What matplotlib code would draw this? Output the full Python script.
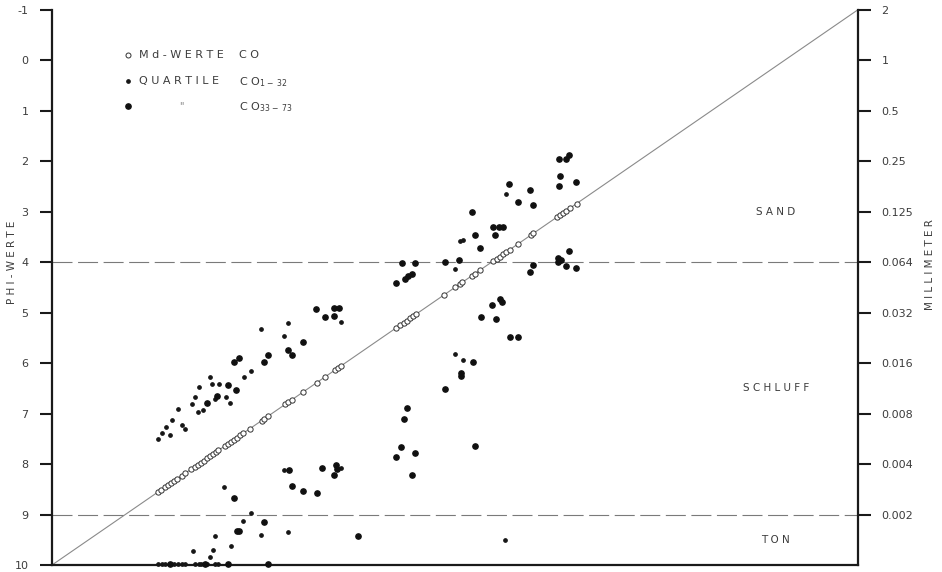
import matplotlib
matplotlib.use('Agg')
import matplotlib.pyplot as plt

# Md-Werte (phi) der Proben CO, liegen auf der Diagonalen
md_phi = [8.55, 8.51, 8.46, 8.42, 8.38, 8.33, 8.29, 8.23, 8.18,
          8.10, 8.05, 8.01, 7.97, 7.93, 7.88, 7.84, 7.80, 7.76, 7.73,
          7.64, 7.60, 7.56, 7.52, 7.48, 7.43, 7.39, 7.30,
          7.14, 7.11, 7.05, 6.82, 6.78, 6.73, 6.57, 6.39, 6.28,
          6.14, 6.09, 6.05, 5.30, 5.25, 5.20, 5.16, 5.11, 5.07, 5.03,
          4.65, 4.50, 4.43, 4.40, 4.27, 4.23, 4.16,
          3.98, 3.93, 3.89, 3.84, 3.80, 3.75, 3.64, 3.46, 3.43,
          3.11, 3.07, 3.02, 2.98, 2.93, 2.84]

# Quartile CO 1-32: x = Md (phi), y = Quartil (phi)
q1_md = [6.78, 7.15, 6.84, 6.05, 7.28, 7.38, 7.84, 7.99, 7.81, 7.72,
         8.05, 7.77, 7.63, 7.57, 8.09, 7.94, 8.01, 8.28, 8.36, 8.22,
         8.18, 8.45, 8.50, 8.39, 8.56, 4.50, 4.39, 4.43, 4.39, 4.50,
         3.81, 6.84, 7.65, 7.29, 7.40, 7.77, 7.15, 6.78, 8.08, 7.80,
         7.56, 7.84, 3.82, 6.06,
         8.55, 8.50, 8.46, 8.34, 8.28, 8.23, 8.18, 8.05, 8.00, 7.96,
         7.89, 7.78, 7.74]
q1_phi = [5.20, 5.32, 5.47, 5.18, 6.16, 6.27, 6.28, 6.47, 6.42, 6.42,
          6.67, 6.72, 6.68, 6.79, 6.81, 6.93, 6.97, 6.91, 7.12, 7.22,
          7.30, 7.27, 7.38, 7.42, 7.51, 5.81, 5.93, 3.58, 3.57, 4.13,
          2.66, 8.12, 8.46, 8.97, 9.12, 9.42, 9.41, 9.34, 9.72, 9.70,
          9.63, 9.85, 9.50, 8.08,
          9.97, 9.97, 9.97, 9.97, 9.97, 9.97, 9.97, 9.97, 9.97, 9.97,
          9.97, 9.97, 9.97]

# Quartile CO 33-73
q2_md = [6.40, 6.28, 6.15, 6.08, 6.15, 6.58, 6.78, 6.73, 7.05, 7.11,
         7.45, 7.51, 7.60, 7.49, 7.75, 7.89, 5.30, 5.18, 5.14, 5.08,
         5.22, 5.05, 4.64, 4.44, 4.27, 3.98, 3.90, 3.84, 4.23, 3.96,
         4.16, 3.76, 3.64, 3.48, 3.43, 3.08, 2.98, 2.94, 3.06, 3.08,
         2.85, 2.94, 3.10, 3.08, 3.10, 3.05, 2.98, 2.85, 3.43, 3.47,
         3.99, 3.89, 3.86, 4.15, 3.94, 3.75, 3.64, 4.25, 4.42, 4.42,
         4.63, 5.15, 5.19, 5.23, 4.23, 5.30, 5.05, 5.09, 6.12, 6.11,
         6.15, 6.31, 6.57, 6.39, 6.77, 6.73, 7.52, 7.11, 7.48, 7.45,
         5.82, 7.60, 7.05, 8.39, 7.91]
q2_phi = [4.93, 5.09, 4.91, 4.91, 5.07, 5.59, 5.74, 5.83, 5.83, 5.97,
          5.90, 5.98, 6.44, 6.53, 6.66, 6.79, 4.41, 4.34, 4.28, 4.23,
          4.01, 4.01, 4.00, 3.96, 3.01, 3.31, 3.31, 3.31, 3.46, 3.47,
          3.72, 2.46, 2.81, 2.58, 2.86, 1.96, 1.96, 1.88, 2.30, 2.50,
          2.41, 3.77, 3.91, 3.96, 3.99, 3.95, 4.07, 4.12, 4.06, 4.20,
          4.84, 4.74, 4.79, 5.09, 5.13, 5.48, 5.48, 5.98, 6.19, 6.25,
          6.52, 6.88, 7.10, 7.67, 7.65, 7.87, 7.79, 8.21, 8.01, 8.10,
          8.21, 8.08, 8.53, 8.57, 8.12, 8.43, 8.67, 9.15, 9.33, 9.33,
          9.43, 9.97, 9.97, 9.97, 9.97]

phi_ticks = [-1, 0, 1, 2, 3, 4, 5, 6, 7, 8, 9, 10]
phi_labels = ['-1', '0', '1', '2', '3', '4', '5', '6', '7', '8', '9', '10']
mm_ticks = [-1, 0, 1, 2, 3, 4, 5, 6, 7, 8, 9]
mm_labels = ['2', '1', '0.5', '0.25', '0.125', '0.064', '0.032',
             '0.016', '0.008', '0.004', '0.002']

sand_grenze = 4
ton_grenze = 9

tc = '#3c3c3c'
plt.rcParams['font.family'] = ['DejaVu Sans']
plt.rcParams['mathtext.fontset'] = 'dejavusans'

fig = plt.figure(figsize=(9.42, 5.72), dpi=100)
ax = fig.add_axes([0.0552, 0.0122, 0.8556, 0.9708])

ax.set_xlim(10, -1)
ax.set_ylim(10, -1)

# Diagonale Md = phi
ax.axline((0, 0), (1, 1), color='#8a8a8a', lw=0.8, zorder=1)

# Grenzen Sand/Schluff und Schluff/Ton
for g in (sand_grenze, ton_grenze):
    ax.axhline(g, color='#7a7a7a', lw=0.8, dashes=(18, 5), zorder=1)

ax.plot(md_phi, md_phi, 'o', ms=3.8, mfc='white', mec='#333333', mew=0.7,
        ls='none', zorder=3)
ax.plot(q1_md, q1_phi, 'o', ms=2.4, color='#161616', ls='none',
        zorder=3, clip_on=False)
ax.plot(q2_md, q2_phi, 'o', ms=3.8, color='#101010', ls='none',
        zorder=3, clip_on=False)

# Achsen
for s in ('left', 'right', 'bottom'):
    ax.spines[s].set_linewidth(1.6)
    ax.spines[s].set_color('#1a1a1a')
ax.spines['top'].set_visible(False)

ax.set_xticks([])
ax.set_yticks(phi_ticks)
ax.set_yticklabels(phi_labels)
ax.tick_params(axis='y', direction='out', length=9, width=1.5,
               pad=8, labelsize=8, labelcolor=tc, color='#1a1a1a')

ax2 = ax.twinx()
ax2.set_ylim(ax.get_ylim())
ax2.set_yticks(mm_ticks)
ax2.set_yticklabels(mm_labels)
ax2.tick_params(axis='y', direction='out', length=9, width=1.5,
                pad=8, labelsize=8, labelcolor=tc, color='#1a1a1a')
for s in ax2.spines.values():
    s.set_visible(False)

fig.text(0.013, 0.542, 'P H I - W E R T E', rotation=90, ha='center',
         va='center', fontsize=7.5, color=tc)
fig.text(0.987, 0.538, 'M I L L I M E T E R', rotation=90, ha='center',
         va='center', fontsize=7.5, color=tc)

# Klassen
ax.text(0.12, 3.0, 'S A N D', ha='center', va='center', fontsize=7.5, color=tc)
ax.text(0.12, 6.5, 'S C H L U F F', ha='center', va='center', fontsize=7.5, color=tc)
ax.text(0.12, 9.5, 'T O N', ha='center', va='center', fontsize=7.5, color=tc)

# Legende
tr = ax.transAxes
ax.plot([0.094], [0.918], 'o', ms=3.6, mfc='white', mec='#333333',
        mew=0.7, transform=tr)
ax.plot([0.094], [0.872], 'o', ms=2.4, color='#161616', transform=tr)
ax.plot([0.094], [0.827], 'o', ms=3.8, color='#101010', transform=tr)
ax.text(0.108, 0.918, 'M d - W E R T E', va='center', fontsize=8, color=tc, transform=tr)
ax.text(0.108, 0.872, 'Q U A R T I L E', va='center', fontsize=8, color=tc, transform=tr)
ax.text(0.160, 0.827, '"', va='center', ha='center', fontsize=7, color='#777777', transform=tr)
ax.text(0.232, 0.918, 'C O', va='center', fontsize=8, color=tc, transform=tr)
ax.text(0.232, 0.870, r'C O$_{1\,-\,32}$', va='center', fontsize=8, color=tc, transform=tr)
ax.text(0.232, 0.825, r'C O$_{33\,-\,73}$', va='center', fontsize=8, color=tc, transform=tr)

fig.savefig('out.png', dpi=100)
